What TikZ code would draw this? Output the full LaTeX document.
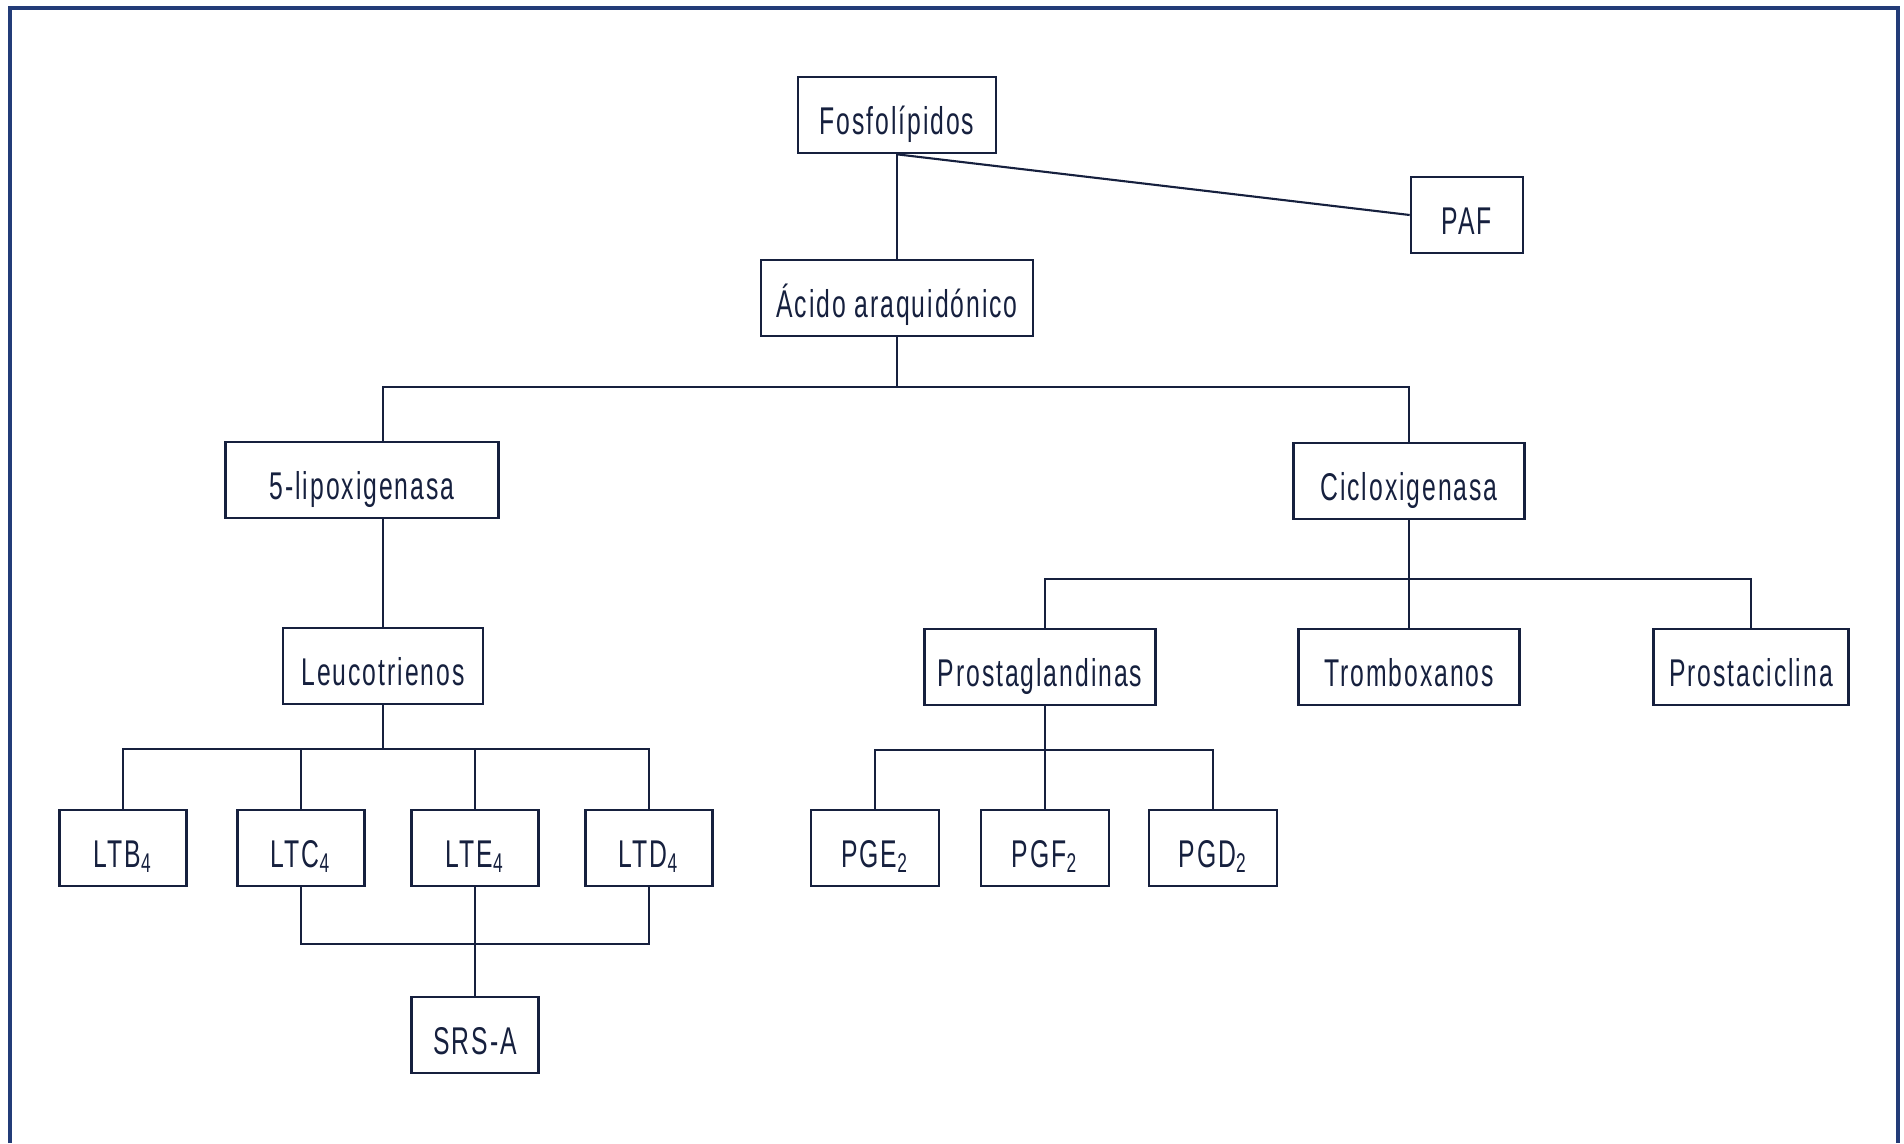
\documentclass[tikz,border=0pt]{standalone}
\usepackage{fontspec}
\setmainfont{Liberation Sans}
\newfontfamily\boxfont[FakeStretch=0.64, LetterSpace=5]{Liberation Sans}
\definecolor{ln}{RGB}{22,32,62}
\definecolor{framec}{RGB}{35,60,120}
\begin{document}
\begin{tikzpicture}[x=0.01cm,y=-0.01cm,
  box/.style={draw=ln, line width=0.75pt, inner sep=0pt, minimum height=0.76cm, text=ln,
    text height=10.9pt, text depth=0pt,
    font=\boxfont\fontsize{11}{13}\selectfont},
  conn/.style={draw=ln, line width=0.6pt}]
\useasboundingbox (0,0) rectangle (1904,1143);
\draw[framec, line width=1.3pt] (10,1143) -- (10,8) -- (1898,8) -- (1898,1143);

\node[box, minimum width=1.98cm] (fos) at (897,115) {Fosfolípidos};
\node[box, minimum width=1.12cm] (paf) at (1467,215) {PAF};
\node[box, minimum width=2.72cm] (acido) at (897,298) {Ácido araquidónico};
\node[box, minimum width=2.73cm] (lipo) at (362,480) {5-lipoxigenasa};
\node[box, minimum width=2.31cm] (cox) at (1409,481) {Cicloxigenasa};
\node[box, minimum width=2.00cm] (leuco) at (383,666) {Leucotrienos};
\node[box, minimum width=1.27cm] (ltb) at (123,848) {LTB\textsubscript{4}};
\node[box, minimum width=1.27cm] (ltc) at (301,848) {LTC\textsubscript{4}};
\node[box, minimum width=1.27cm] (lte) at (475,848) {LTE\textsubscript{4}};
\node[box, minimum width=1.27cm] (ltd) at (649,848) {LTD\textsubscript{4}};
\node[box, minimum width=1.27cm] (srs) at (475,1035) {SRS-A};
\node[box, minimum width=2.31cm] (pg) at (1040,667) {Prostaglandinas};
\node[box, minimum width=2.21cm] (tx) at (1409,667) {Tromboxanos};
\node[box, minimum width=1.95cm] (pgi) at (1751,667) {Prostaciclina};
\node[box, minimum width=1.28cm] (pge) at (875,848) {PGE\textsubscript{2}};
\node[box, minimum width=1.28cm] (pgf) at (1045,848) {PGF\textsubscript{2}};
\node[box, minimum width=1.28cm] (pgd) at (1213,848) {PGD\textsubscript{2}};

\coordinate (abar) at (897,387);
\coordinate (lbar) at (383,749);
\coordinate (bbar) at (475,944);
\coordinate (cbar) at (1409,579);
\coordinate (pbar) at (1045,750);

\draw[conn] (fos.south) -- (acido.north);
\draw[conn] (fos.south) -- (paf.west);
\draw[conn] (acido.south) -- (abar);
\draw[conn] (lipo.north -| leuco.north) |- (abar) -| (cox.north);
\draw[conn] (lipo.south -| leuco.north) -- (leuco.north);
\draw[conn] (leuco.south) -- (lbar);
\draw[conn] (ltb.north) |- (lbar) -| (ltd.north);
\draw[conn] (ltc.north) -- (ltc.north |- lbar);
\draw[conn] (lte.north) -- (lte.north |- lbar);
\draw[conn] (ltc.south) |- (bbar) -| (ltd.south);
\draw[conn] (lte.south) -- (srs.north);
\draw[conn] (cox.south) -- (tx.north);
\draw[conn] (pg.north -| pgf.north) |- (cbar) -| (pgi.north);
\draw[conn] (pg.south -| pgf.north) -- (pgf.north);
\draw[conn] (pge.north) |- (pbar) -| (pgd.north);
\end{tikzpicture}
\end{document}
